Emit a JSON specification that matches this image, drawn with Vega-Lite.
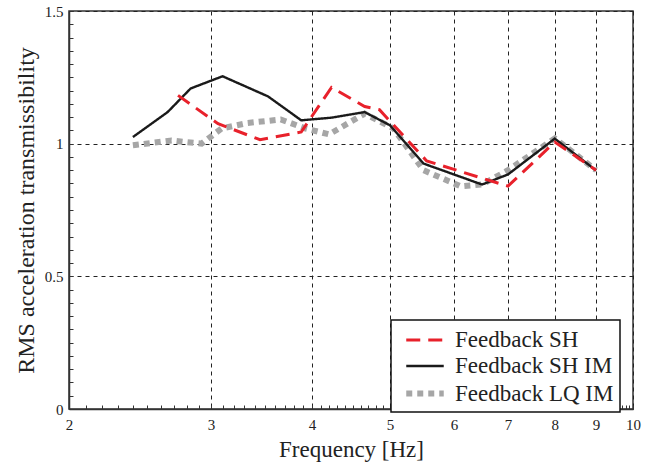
{
  "$schema": "https://vega.github.io/schema/vega-lite/v6.json",
  "width": 564,
  "height": 398,
  "padding": {"left": 14, "top": 4, "right": 10, "bottom": 5},
  "background": "white",
  "config": {
    "font": "'Liberation Serif', 'Times New Roman', serif",
    "view": {"stroke": "#333", "strokeWidth": 1.5},
    "axis": {
      "labelFont": "'Liberation Serif', 'Times New Roman', serif",
      "titleFont": "'Liberation Serif', 'Times New Roman', serif",
      "labelColor": "#222",
      "titleColor": "#222",
      "titleFontWeight": "normal",
      "domainColor": "#333",
      "domainWidth": 1.5,
      "tickColor": "#333",
      "grid": true,
      "gridColor": "#222",
      "gridDash": [4, 4],
      "gridWidth": 1,
      "labelFontSize": 15,
      "titleFontSize": 23,
      "labelOverlap": false,
      "labelFlush": false
    },
    "legend": {
      "labelFont": "'Liberation Serif', 'Times New Roman', serif",
      "strokeWidth": 1.5
    }
  },
  "data": {
    "values": [
      {"series": "Feedback LQ IM", "f": 2.40, "v": 0.994},
      {"series": "Feedback LQ IM", "f": 2.68, "v": 1.012},
      {"series": "Feedback LQ IM", "f": 2.92, "v": 1.0},
      {"series": "Feedback LQ IM", "f": 3.09, "v": 1.057},
      {"series": "Feedback LQ IM", "f": 3.33, "v": 1.078},
      {"series": "Feedback LQ IM", "f": 3.66, "v": 1.091},
      {"series": "Feedback LQ IM", "f": 3.93, "v": 1.057},
      {"series": "Feedback LQ IM", "f": 4.2, "v": 1.035},
      {"series": "Feedback LQ IM", "f": 4.65, "v": 1.113},
      {"series": "Feedback LQ IM", "f": 5.05, "v": 1.057},
      {"series": "Feedback LQ IM", "f": 5.5, "v": 0.90},
      {"series": "Feedback LQ IM", "f": 6.12, "v": 0.839},
      {"series": "Feedback LQ IM", "f": 6.5, "v": 0.846},
      {"series": "Feedback LQ IM", "f": 7.0, "v": 0.90},
      {"series": "Feedback LQ IM", "f": 8.0, "v": 1.02},
      {"series": "Feedback LQ IM", "f": 9.0, "v": 0.90},
      {"series": "Feedback SH IM", "f": 2.40, "v": 1.025},
      {"series": "Feedback SH IM", "f": 2.65, "v": 1.119},
      {"series": "Feedback SH IM", "f": 2.83, "v": 1.208},
      {"series": "Feedback SH IM", "f": 3.10, "v": 1.254},
      {"series": "Feedback SH IM", "f": 3.53, "v": 1.178},
      {"series": "Feedback SH IM", "f": 3.88, "v": 1.088},
      {"series": "Feedback SH IM", "f": 4.23, "v": 1.098},
      {"series": "Feedback SH IM", "f": 4.65, "v": 1.119},
      {"series": "Feedback SH IM", "f": 5.0, "v": 1.069},
      {"series": "Feedback SH IM", "f": 5.5, "v": 0.925},
      {"series": "Feedback SH IM", "f": 6.5, "v": 0.846},
      {"series": "Feedback SH IM", "f": 7.0, "v": 0.884},
      {"series": "Feedback SH IM", "f": 8.0, "v": 1.019},
      {"series": "Feedback SH IM", "f": 9.0, "v": 0.899},
      {"series": "Feedback SH", "f": 2.73, "v": 1.182},
      {"series": "Feedback SH", "f": 3.06, "v": 1.075},
      {"series": "Feedback SH", "f": 3.45, "v": 1.015},
      {"series": "Feedback SH", "f": 3.88, "v": 1.044},
      {"series": "Feedback SH", "f": 4.23, "v": 1.212},
      {"series": "Feedback SH", "f": 4.65, "v": 1.14},
      {"series": "Feedback SH", "f": 4.85, "v": 1.128},
      {"series": "Feedback SH", "f": 5.55, "v": 0.935},
      {"series": "Feedback SH", "f": 6.5, "v": 0.87},
      {"series": "Feedback SH", "f": 7.0, "v": 0.84},
      {"series": "Feedback SH", "f": 8.0, "v": 1.006},
      {"series": "Feedback SH", "f": 9.0, "v": 0.90}
    ]
  },
  "encoding": {
    "x": {
      "field": "f", "type": "quantitative",
      "scale": {"type": "log", "domain": [2, 10], "nice": false},
      "axis": {
        "title": "Frequency [Hz]",
        "titlePadding": 6,
        "values": [2,2.1,2.2,2.3,2.4,2.5,2.6,2.7,2.8,2.9,3,3.1,3.2,3.3,3.4,3.5,3.6,3.7,3.8,3.9,4,4.1,4.2,4.3,4.4,4.5,4.6,4.7,4.8,4.9,5,5.1,5.2,5.3,5.4,5.5,5.6,5.7,5.8,5.9,6,6.1,6.2,6.3,6.4,6.5,6.6,6.7,6.8,6.9,7,7.1,7.2,7.3,7.4,7.5,7.6,7.7,7.8,7.9,8,8.1,8.2,8.3,8.4,8.5,8.6,8.7,8.8,8.9,9,9.1,9.2,9.3,9.4,9.5,9.6,9.7,9.8,9.9,10],
        "labelExpr": "abs(datum.value - round(datum.value)) < 0.001 ? format(datum.value, 'd') : ''",
        "gridOpacity": {"condition": {"test": "abs(datum.value - round(datum.value)) < 0.001", "value": 1}, "value": 0},
        "tickSize": -4,
        "labelPadding": 12
      }
    },
    "y": {
      "field": "v", "type": "quantitative",
      "scale": {"domain": [0, 1.5], "nice": false, "zero": false},
      "axis": {
        "title": "RMS acceleration transmissibility",
        "titleFontSize": 24,
        "titlePadding": 6,
        "values": [0,0.05,0.1,0.15,0.2,0.25,0.3,0.35,0.4,0.45,0.5,0.55,0.6,0.65,0.7,0.75,0.8,0.85,0.9,0.95,1,1.05,1.1,1.15,1.2,1.25,1.3,1.35,1.4,1.45,1.5],
        "labelExpr": "abs(datum.value*2 - round(datum.value*2)) < 0.001 ? format(datum.value, '') : ''",
        "gridOpacity": {"condition": {"test": "abs(datum.value*2 - round(datum.value*2)) < 0.001", "value": 1}, "value": 0},
        "tickSize": -4,
        "labelPadding": 10
      }
    },
    "color": {
      "field": "series", "type": "nominal",
      "scale": {"domain": ["Feedback SH", "Feedback SH IM", "Feedback LQ IM"], "range": ["#e8212b", "#1a1a1a", "#a6a6a6"]},
      "legend": {
        "title": null,
        "orient": "none",
        "legendX": 322,
        "legendY": 309,
        "strokeColor": "#111",
        "fillColor": "white",
        "padding": 6,
        "symbolType": "M-0.5,0H2.5",
        "symbolSize": 625,
        "labelFontSize": 23,
        "labelColor": "#222",
        "labelOffset": 27,
        "rowPadding": 0,
        "labelLimit": 300
      }
    },
    "strokeDash": {
      "field": "series", "type": "nominal",
      "scale": {"domain": ["Feedback SH", "Feedback SH IM", "Feedback LQ IM"], "range": [[14, 8], [1, 0], [6, 5]]},
      "legend": {"title": null}
    },
    "strokeWidth": {
      "field": "series", "type": "ordinal",
      "scale": {"type": "ordinal", "domain": ["Feedback SH", "Feedback SH IM", "Feedback LQ IM"], "range": [3, 2.4, 6]},
      "legend": {"title": null}
    }
  },
  "layer": [
    {"transform": [{"filter": "datum.series == 'Feedback LQ IM'"}], "mark": {"type": "line", "strokeCap": "butt"}},
    {"transform": [{"filter": "datum.series == 'Feedback SH IM'"}], "mark": {"type": "line", "strokeCap": "butt"}},
    {"transform": [{"filter": "datum.series == 'Feedback SH'"}], "mark": {"type": "line", "strokeCap": "butt"}}
  ]
}
